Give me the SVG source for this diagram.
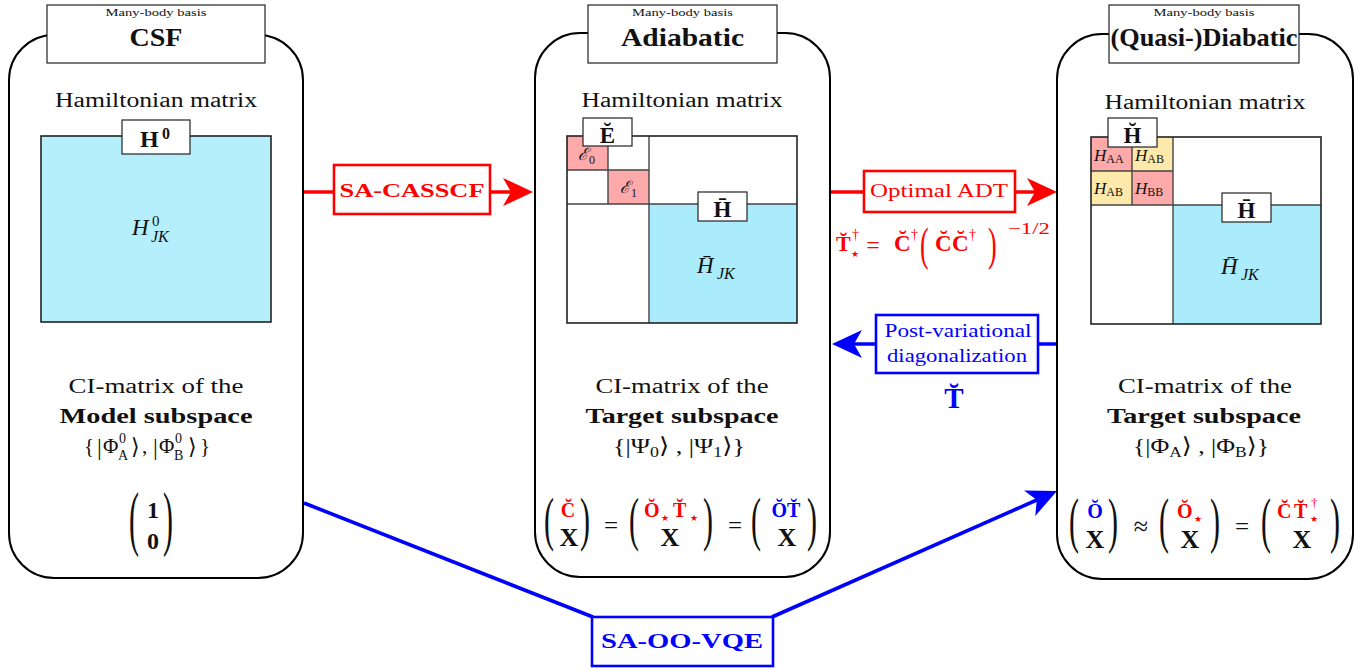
<svg xmlns="http://www.w3.org/2000/svg" width="1364" height="669" viewBox="0 0 1364 669">
<style>
.t{font-family:"Liberation Serif","DejaVu Serif",serif;fill:#111}
.st{font-family:"DejaVu Sans",sans-serif;font-weight:normal}
.b{font-weight:bold}
.i{font-style:italic}
.r{fill:#ff0000}
.bl{fill:#0000ff}
.m{text-anchor:middle}
.big{fill:#fff;stroke:#000;stroke-width:2}
.ttl{fill:#fff;stroke:#222;stroke-width:1.2}
.lab{fill:#fff;stroke:#222;stroke-width:1.2}
.mat{fill:none;stroke:#222;stroke-width:1.6}
.cy{fill:#aaecfb}
.rc{fill:#ffaaaa}
.yc{fill:#fde9a9}
.gl{stroke:#444;stroke-width:1.4;fill:none}
.rbox{fill:#fff;stroke:#ff0000;stroke-width:2.6}
.bbox{fill:#fff;stroke:#0000ff;stroke-width:2.6}
.rl{stroke:#ff0000;stroke-width:3.6;fill:none}
.bll{stroke:#0000ff;stroke-width:3.6;fill:none}
</style>
<defs>
<marker id="arR" viewBox="0 0 30 28" refX="24" refY="14" markerWidth="30" markerHeight="28" orient="auto" markerUnits="userSpaceOnUse"><path d="M0,0 L30,14 L0,28 L8,14 Z" fill="#ff0000"/></marker>
<marker id="arB" viewBox="0 0 30 28" refX="24" refY="14" markerWidth="30" markerHeight="28" orient="auto" markerUnits="userSpaceOnUse"><path d="M0,0 L30,14 L0,28 L8,14 Z" fill="#0000ff"/></marker>
</defs>
<rect width="1364" height="669" fill="#fff"/>

<!-- connectors -->
<g id="connectors">
<line class="rl" x1="304" y1="192" x2="527" y2="192" marker-end="url(#arR)"/>
<line class="rl" x1="830" y1="192" x2="1051" y2="192" marker-end="url(#arR)"/>
<line class="bll" x1="1057" y1="344" x2="838" y2="344" marker-end="url(#arB)"/>
<line class="bll" x1="304" y1="503" x2="593" y2="617"/>
<line class="bll" x1="772" y1="617" x2="1051.5" y2="493.5" marker-end="url(#arB)"/>
</g>

<!-- CSF node -->
<g id="node-csf">
<rect class="big" x="9" y="35" width="294" height="543" rx="45"/>
<rect class="ttl" x="47" y="5" width="218" height="58"/>
<text class="t m" x="156" y="16" font-size="11" fill="#333" textLength="101" lengthAdjust="spacingAndGlyphs">Many-body basis</text>
<text class="t b m" x="156" y="46" font-size="25" textLength="53" lengthAdjust="spacingAndGlyphs">CSF</text>
<text class="t m" x="156" y="107" font-size="20" textLength="202" lengthAdjust="spacingAndGlyphs">Hamiltonian matrix</text>
<rect x="41" y="136" width="230" height="186" fill="#b6effc" stroke="#222" stroke-width="1.6"/>
<rect class="lab" x="122" y="120" width="68" height="34"/>
<text class="t b" x="140" y="147" font-size="24">H</text>
<text class="t b" x="162" y="139" font-size="16">0</text>
<text class="t i" x="132" y="235" font-size="23">H</text>
<text class="t" x="152" y="226" font-size="15">0</text>
<text class="t i" x="151" y="242" font-size="16">JK</text>
<text class="t m" x="156" y="393" font-size="20" textLength="175" lengthAdjust="spacingAndGlyphs">CI-matrix of the</text>
<text class="t b m" x="156" y="423" font-size="20" textLength="193" lengthAdjust="spacingAndGlyphs">Model subspace</text>
<text class="t" x="84" y="453" font-size="21">{</text>
<text class="t" x="97" y="455" font-size="24">|</text>
<text class="t" x="103" y="453" font-size="21">Φ</text>
<text class="t" x="119" y="443" font-size="14">0</text>
<text class="t" x="118" y="460" font-size="14">A</text>
<text class="t" x="131" y="454" font-size="22">⟩</text>
<text class="t" x="142" y="453" font-size="21">,</text>
<text class="t" x="153" y="455" font-size="24">|</text>
<text class="t" x="159" y="453" font-size="21">Φ</text>
<text class="t" x="175" y="443" font-size="14">0</text>
<text class="t" x="174" y="460" font-size="14">B</text>
<text class="t" x="188" y="454" font-size="22">⟩</text>
<text class="t" x="200" y="453" font-size="21">}</text>
<text class="t" font-size="30" transform="translate(129,542) scale(1,2.4)">(</text>
<text class="t" font-size="30" transform="translate(163,542) scale(1,2.4)">)</text>
<text class="t b m" x="153" y="518" font-size="24">1</text>
<text class="t b m" x="153" y="549" font-size="24">0</text>
</g>

<!-- SA-CASSCF -->
<g id="node-sacasscf">
<rect class="rbox" x="334" y="165" width="156" height="49"/>
<text class="t b r m" x="412" y="197" font-size="18" textLength="145" lengthAdjust="spacingAndGlyphs">SA-CASSCF</text>
</g>

<!-- Adiabatic node -->
<g id="node-adiabatic">
<rect class="big" x="535" y="33" width="295" height="544" rx="45"/>
<rect class="ttl" x="588" y="5" width="189" height="58"/>
<text class="t m" x="682.5" y="16" font-size="11" fill="#333" textLength="101" lengthAdjust="spacingAndGlyphs">Many-body basis</text>
<text class="t b m" x="682.5" y="46" font-size="25" textLength="123" lengthAdjust="spacingAndGlyphs">Adiabatic</text>
<text class="t m" x="682" y="107" font-size="20" textLength="201" lengthAdjust="spacingAndGlyphs">Hamiltonian matrix</text>
<rect class="rc" x="567" y="136" width="41" height="34"/>
<rect class="rc" x="608" y="170" width="41" height="34"/>
<rect class="cy" x="649" y="204" width="148" height="119"/>
<path class="gl" d="M608,136 V204 M567,170 H649 M649,136 V323 M567,204 H797"/>
<rect class="mat" x="567" y="136" width="230" height="187"/>
<rect class="lab" x="583" y="118" width="49" height="28"/>
<text class="t b m" x="607.5" y="143" font-size="23">Ĕ</text>
<text class="t i" x="578" y="160" font-size="17">ℰ</text>
<text class="t" x="589" y="164" font-size="12">0</text>
<text class="t i" x="620" y="193" font-size="17">ℰ</text>
<text class="t" x="631" y="197" font-size="12">1</text>
<rect class="lab" x="698" y="192" width="49" height="29"/>
<text class="t b m" x="722.5" y="217" font-size="23">H̄</text>
<text class="t i" x="697" y="273" font-size="23">H̄</text>
<text class="t i" x="717" y="279" font-size="16">JK</text>
<text class="t m" x="682" y="393" font-size="20" textLength="173" lengthAdjust="spacingAndGlyphs">CI-matrix of the</text>
<text class="t b m" x="682" y="423" font-size="20" textLength="193" lengthAdjust="spacingAndGlyphs">Target subspace</text>
<text class="t" x="613" y="453" font-size="22" textLength="132" lengthAdjust="spacingAndGlyphs">{|Ψ<tspan font-size="15" dy="4">0</tspan><tspan dy="-4">⟩ , |Ψ</tspan><tspan font-size="15" dy="4">1</tspan><tspan dy="-4">⟩}</tspan></text>
<text class="t" font-size="30" transform="translate(544,539) scale(1,1.95)">(</text>
<text class="t" font-size="30" transform="translate(580,539) scale(1,1.95)">)</text>
<text class="t b r m" x="568" y="517" font-size="20">C̆</text>
<text class="t b m" x="569" y="546" font-size="26">X</text>
<text class="t m" x="611" y="534" font-size="25">=</text>
<text class="t" font-size="30" transform="translate(629,539) scale(1,1.95)">(</text>
<text class="t" font-size="30" transform="translate(703,539) scale(1,1.95)">)</text>
<text class="t b r" x="644" y="517" font-size="20">Ŏ</text>
<text class="t r st" x="661" y="521" font-size="9">★</text>
<text class="t b r" x="673" y="517" font-size="20">T̆</text>
<text class="t r st" x="690" y="521" font-size="9">★</text>
<text class="t b m" x="670" y="546" font-size="26">X</text>
<text class="t m" x="735" y="534" font-size="25">=</text>
<text class="t" font-size="30" transform="translate(751,539) scale(1,1.95)">(</text>
<text class="t" font-size="30" transform="translate(807,539) scale(1,1.95)">)</text>
<text class="t b bl m" x="786" y="517" font-size="20">ŎT̆</text>
<text class="t b m" x="787" y="546" font-size="26">X</text>
</g>

<!-- Optimal ADT -->
<g id="node-adt">
<rect class="rbox" x="864" y="171" width="151" height="41"/>
<text class="t r m" x="939" y="197" font-size="19" textLength="138" lengthAdjust="spacingAndGlyphs">Optimal ADT</text>
<text class="t b r" x="836" y="251" font-size="22">T̆</text>
<text class="t r" x="852" y="239" font-size="14">†</text>
<text class="t r st" x="851" y="257" font-size="9">★</text>
<text class="t r m" x="873" y="253" font-size="24">=</text>
<text class="t b r" x="894" y="251" font-size="23">C̆</text>
<text class="t r" x="911" y="239" font-size="14">†</text>
<text class="t r" font-size="26" transform="translate(920,260) scale(1,1.75)">(</text>
<text class="t b r" x="935" y="251" font-size="23">C̆</text>
<text class="t b r" x="952" y="251" font-size="23">C̆</text>
<text class="t r" x="969" y="239" font-size="14">†</text>
<text class="t r" font-size="26" transform="translate(988,260) scale(1,1.75)">)</text>
<text class="t r" x="1008" y="234" font-size="17" textLength="42" lengthAdjust="spacingAndGlyphs">−1/2</text>
</g>

<!-- Post-variational -->
<g id="node-postvar">
<rect class="bbox" x="876" y="315" width="162" height="58"/>
<text class="t bl m" x="958" y="337" font-size="19" textLength="147" lengthAdjust="spacingAndGlyphs">Post-variational</text>
<text class="t bl m" x="957" y="362" font-size="19" textLength="140" lengthAdjust="spacingAndGlyphs">diagonalization</text>
<text class="t b bl m" x="954" y="408" font-size="29">T̆</text>
</g>

<!-- Diabatic node -->
<g id="node-diabatic">
<rect class="big" x="1057" y="34" width="296" height="545" rx="45"/>
<rect class="ttl" x="1109" y="5" width="190" height="58"/>
<text class="t m" x="1204" y="16" font-size="11" fill="#333" textLength="101" lengthAdjust="spacingAndGlyphs">Many-body basis</text>
<text class="t b m" x="1204" y="46" font-size="25" textLength="187" lengthAdjust="spacingAndGlyphs">(Quasi-)Diabatic</text>
<text class="t m" x="1205" y="109" font-size="20" textLength="201" lengthAdjust="spacingAndGlyphs">Hamiltonian matrix</text>
<rect class="rc" x="1091" y="137" width="41" height="34"/>
<rect class="yc" x="1132" y="137" width="41" height="34"/>
<rect class="yc" x="1091" y="171" width="41" height="34"/>
<rect class="rc" x="1132" y="171" width="41" height="34"/>
<rect class="cy" x="1173" y="205" width="148" height="119"/>
<path class="gl" d="M1132,137 V205 M1091,171 H1173 M1173,137 V324 M1091,205 H1321"/>
<rect class="mat" x="1091" y="137" width="230" height="187"/>
<rect class="lab" x="1108" y="118" width="49" height="29"/>
<text class="t b m" x="1132.5" y="143" font-size="23">H̆</text>
<text class="t i" x="1094" y="161" font-size="17">H<tspan class="t" font-style="normal" font-size="12" dy="2">AA</tspan></text>
<text class="t i" x="1135" y="161" font-size="17">H<tspan class="t" font-style="normal" font-size="12" dy="2">AB</tspan></text>
<text class="t i" x="1094" y="194" font-size="17">H<tspan class="t" font-style="normal" font-size="12" dy="2">AB</tspan></text>
<text class="t i" x="1135" y="194" font-size="17">H<tspan class="t" font-style="normal" font-size="12" dy="2">BB</tspan></text>
<rect class="lab" x="1222" y="193" width="49" height="29"/>
<text class="t b m" x="1246.5" y="218" font-size="23">H̄</text>
<text class="t i" x="1221" y="274" font-size="23">H̄</text>
<text class="t i" x="1241" y="280" font-size="16">JK</text>
<text class="t m" x="1205" y="393" font-size="20" textLength="174" lengthAdjust="spacingAndGlyphs">CI-matrix of the</text>
<text class="t b m" x="1204" y="423" font-size="20" textLength="194" lengthAdjust="spacingAndGlyphs">Target subspace</text>
<text class="t" x="1133" y="453" font-size="22" textLength="136" lengthAdjust="spacingAndGlyphs">{|Φ<tspan font-size="15" dy="4">A</tspan><tspan dy="-4">⟩ , |Φ</tspan><tspan font-size="15" dy="4">B</tspan><tspan dy="-4">⟩}</tspan></text>
<text class="t" font-size="30" transform="translate(1069,541) scale(1,2.05)">(</text>
<text class="t" font-size="30" transform="translate(1108,541) scale(1,2.05)">)</text>
<text class="t b bl m" x="1095" y="518" font-size="20">Ŏ</text>
<text class="t b m" x="1095" y="548" font-size="26">X</text>
<text class="t m" x="1141" y="535" font-size="26">≈</text>
<text class="t" font-size="30" transform="translate(1159,541) scale(1,2.05)">(</text>
<text class="t" font-size="30" transform="translate(1210,541) scale(1,2.05)">)</text>
<text class="t b r" x="1177" y="518" font-size="20">Ŏ</text>
<text class="t r st" x="1194" y="522" font-size="9">★</text>
<text class="t b m" x="1190" y="548" font-size="26">X</text>
<text class="t m" x="1242" y="535" font-size="25">=</text>
<text class="t" font-size="30" transform="translate(1261,541) scale(1,2.05)">(</text>
<text class="t" font-size="30" transform="translate(1330,541) scale(1,2.05)">)</text>
<text class="t b r" x="1277" y="518" font-size="20">C̆</text>
<text class="t b r" x="1294" y="518" font-size="20">T̆</text>
<text class="t r" x="1311" y="507" font-size="13">†</text>
<text class="t r st" x="1310" y="522" font-size="9">★</text>
<text class="t b m" x="1302" y="548" font-size="26">X</text>
</g>

<!-- SA-OO-VQE -->
<g id="node-saoovqe">
<rect class="bbox" x="592" y="617" width="181" height="49"/>
<text class="t b bl m" x="682" y="648" font-size="20" textLength="162" lengthAdjust="spacingAndGlyphs">SA-OO-VQE</text>
</g>
</svg>
